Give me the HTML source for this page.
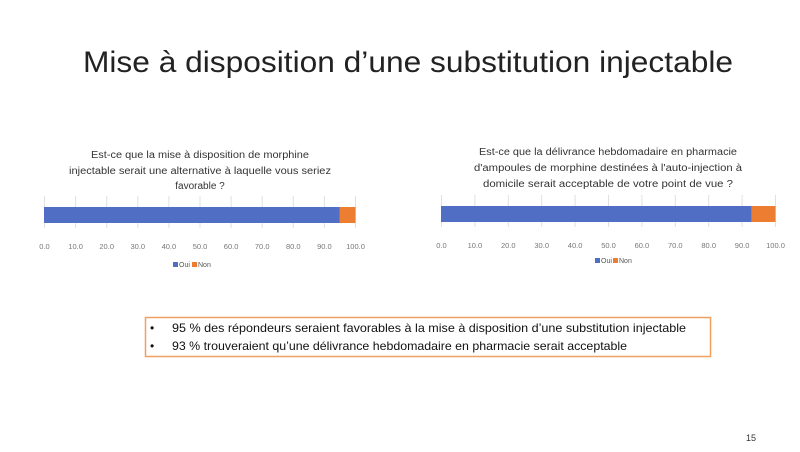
<!DOCTYPE html>
<html><head><meta charset="utf-8"><style>
html,body{margin:0;padding:0;background:#fff;width:800px;height:452px;overflow:hidden}
text{font-family:"Liberation Sans",sans-serif}
</style></head><body>
<svg width="800" height="452" viewBox="0 0 800 452" xmlns="http://www.w3.org/2000/svg">
<rect width="800" height="452" fill="#fff"/>
<text x="408" y="72" font-size="30" fill="#222" text-anchor="middle" textLength="650" lengthAdjust="spacingAndGlyphs">Mise à disposition d’une substitution injectable</text>

<!-- chart 1 -->
<g font-size="10" fill="#333" text-anchor="middle">
<text x="200" y="158" textLength="218" lengthAdjust="spacingAndGlyphs">Est-ce que la mise à disposition de morphine</text>
<text x="200" y="174" textLength="262" lengthAdjust="spacingAndGlyphs">injectable serait une alternative à laquelle vous seriez</text>
<text x="200" y="189">favorable ?</text>
</g>
<g stroke="#e0e0e0" stroke-width="1">
<line x1="44.5" y1="196" x2="44.5" y2="228"/><line x1="75.6" y1="196" x2="75.6" y2="228"/><line x1="106.7" y1="196" x2="106.7" y2="228"/><line x1="137.8" y1="196" x2="137.8" y2="228"/><line x1="168.9" y1="196" x2="168.9" y2="228"/><line x1="200" y1="196" x2="200" y2="228"/><line x1="231.1" y1="196" x2="231.1" y2="228"/><line x1="262.2" y1="196" x2="262.2" y2="228"/><line x1="293.3" y1="196" x2="293.3" y2="228"/><line x1="324.4" y1="196" x2="324.4" y2="228"/><line x1="355.5" y1="196" x2="355.5" y2="228"/>
</g>
<rect x="44" y="207" width="295.5" height="16" fill="#5470c6" style="fill:#5470c6"/>
<rect x="44" y="207" width="295.5" height="16" fill="#4f6ec4"/>
<rect x="339.5" y="207" width="16" height="16" fill="#ed7d31"/>
<g font-size="7.5" fill="#777" text-anchor="middle">
<text x="44.5" y="249">0.0</text><text x="75.6" y="249">10.0</text><text x="106.7" y="249">20.0</text><text x="137.8" y="249">30.0</text><text x="168.9" y="249">40.0</text><text x="200" y="249">50.0</text><text x="231.1" y="249">60.0</text><text x="262.2" y="249">70.0</text><text x="293.3" y="249">80.0</text><text x="324.4" y="249">90.0</text><text x="355.5" y="249">100.0</text>
</g>
<rect x="173" y="262" width="5" height="5" fill="#4f6ec4"/><text x="179" y="267" font-size="7" fill="#555">Oui</text>
<rect x="192" y="262" width="5" height="5" fill="#ed7d31"/><text x="198" y="267" font-size="7" fill="#555">Non</text>

<!-- chart 2 -->
<g font-size="10" fill="#333" text-anchor="middle">
<text x="608" y="155" textLength="258" lengthAdjust="spacingAndGlyphs">Est-ce que la délivrance hebdomadaire en pharmacie</text>
<text x="608" y="171" textLength="268" lengthAdjust="spacingAndGlyphs">d'ampoules de morphine destinées à l'auto-injection à</text>
<text x="608" y="187" textLength="250" lengthAdjust="spacingAndGlyphs">domicile serait acceptable de votre point de vue ?</text>
</g>
<g stroke="#e0e0e0" stroke-width="1">
<line x1="441.5" y1="195" x2="441.5" y2="227"/><line x1="474.9" y1="195" x2="474.9" y2="227"/><line x1="508.3" y1="195" x2="508.3" y2="227"/><line x1="541.7" y1="195" x2="541.7" y2="227"/><line x1="575.1" y1="195" x2="575.1" y2="227"/><line x1="608.5" y1="195" x2="608.5" y2="227"/><line x1="641.9" y1="195" x2="641.9" y2="227"/><line x1="675.3" y1="195" x2="675.3" y2="227"/><line x1="708.7" y1="195" x2="708.7" y2="227"/><line x1="742.1" y1="195" x2="742.1" y2="227"/><line x1="775.5" y1="195" x2="775.5" y2="227"/>
</g>
<rect x="441" y="206" width="310.6" height="16" fill="#4f6ec4"/>
<rect x="751.6" y="206" width="23.9" height="16" fill="#ed7d31"/>
<g font-size="7.5" fill="#777" text-anchor="middle">
<text x="441.5" y="248">0.0</text><text x="474.9" y="248">10.0</text><text x="508.3" y="248">20.0</text><text x="541.7" y="248">30.0</text><text x="575.1" y="248">40.0</text><text x="608.5" y="248">50.0</text><text x="641.9" y="248">60.0</text><text x="675.3" y="248">70.0</text><text x="708.7" y="248">80.0</text><text x="742.1" y="248">90.0</text><text x="775.5" y="248">100.0</text>
</g>
<rect x="595" y="258" width="5" height="5" fill="#4f6ec4"/><text x="601" y="263" font-size="7" fill="#555">Oui</text>
<rect x="613" y="258" width="5" height="5" fill="#ed7d31"/><text x="619" y="263" font-size="7" fill="#555">Non</text>

<!-- box -->
<rect x="145.5" y="317.5" width="565" height="39" fill="#fff" stroke="#f0a060" stroke-width="1.5"/>
<g font-size="12" fill="#111">
<text x="150" y="332">•</text><text x="150" y="350">•</text>
<text x="172" y="332" textLength="514" lengthAdjust="spacingAndGlyphs">95 % des répondeurs seraient favorables à la mise à disposition d’une substitution injectable</text>
<text x="172" y="350" textLength="455" lengthAdjust="spacingAndGlyphs">93 % trouveraient qu’une délivrance hebdomadaire en pharmacie serait acceptable</text>
</g>
<text x="746" y="441" font-size="9" fill="#333">15</text>
</svg>
</body></html>
